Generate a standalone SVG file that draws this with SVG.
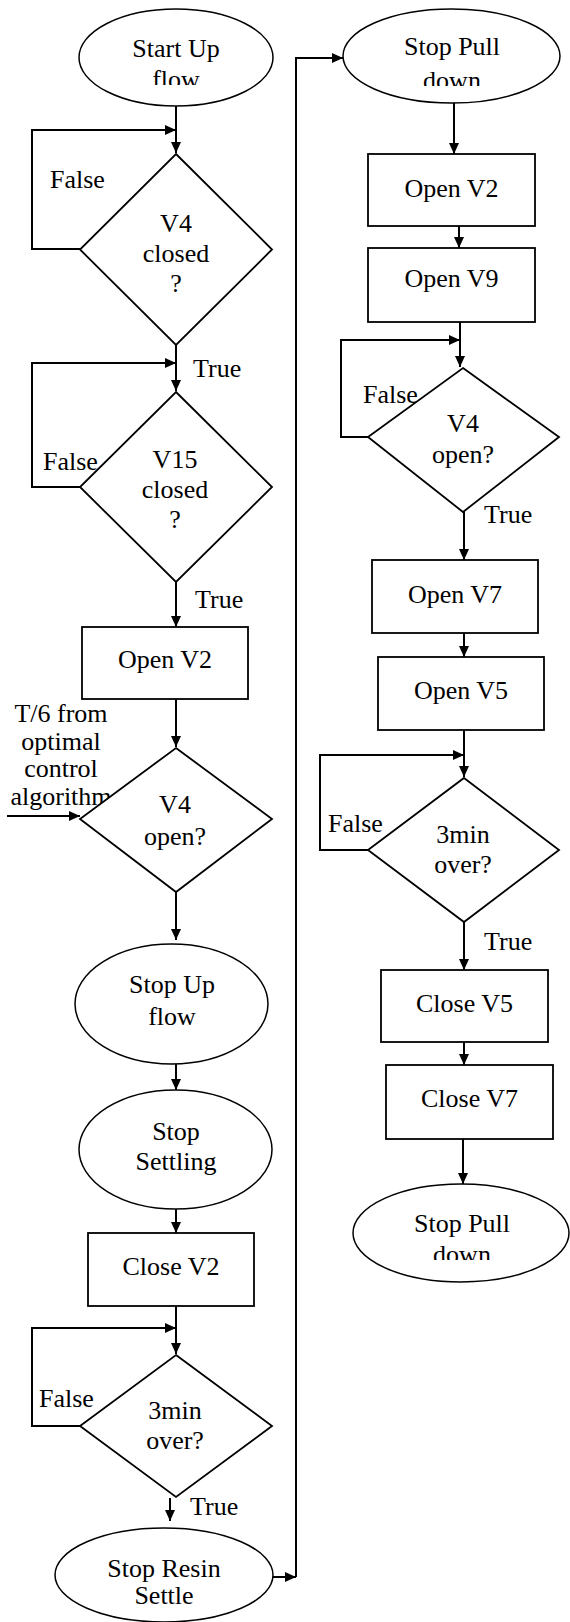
<svg xmlns="http://www.w3.org/2000/svg" width="570" height="1622" viewBox="0 0 570 1622">
<style>
  .shape { fill: #fff; stroke: #000; stroke-width: 1.8; }
  .ell { fill: #fff; stroke: #000; stroke-width: 1.5; }
  .line { fill: none; stroke: #000; stroke-width: 2; }
  text { font-family: "Liberation Serif", "Times New Roman", serif; font-size: 26px; fill: #000; }
  .c { text-anchor: middle; }
</style>
<defs>
  <marker id="arr" markerUnits="userSpaceOnUse" markerWidth="11" markerHeight="10" refX="11" refY="5" orient="auto">
    <path d="M0,0 L11,5 L0,10 z" fill="#000"/>
  </marker>
  <clipPath id="clipA"><rect x="0" y="0" width="290" height="85"/></clipPath>
  <clipPath id="clipB"><rect x="290" y="0" width="280" height="86"/></clipPath>
  <clipPath id="clipC"><rect x="290" y="1150" width="280" height="110"/></clipPath>
</defs>
<rect width="570" height="1622" fill="#fff"/>

<g id="connectors">
  <path class="line" d="M176,106 V153" marker-end="url(#arr)"/>
  <path class="line" d="M80,249 H32 V130 H176" marker-end="url(#arr)"/>
  <path class="line" d="M176,345 V391" marker-end="url(#arr)"/>
  <path class="line" d="M80,487 H32 V363 H176" marker-end="url(#arr)"/>
  <path class="line" d="M176,582 V627" marker-end="url(#arr)"/>
  <path class="line" d="M176,699 V747" marker-end="url(#arr)"/>
  <path class="line" d="M7,816 H80" marker-end="url(#arr)"/>
  <path class="line" d="M176,892 V940" marker-end="url(#arr)"/>
  <path class="line" d="M176,1064 V1090" marker-end="url(#arr)"/>
  <path class="line" d="M176,1209 V1233" marker-end="url(#arr)"/>
  <path class="line" d="M176,1306 V1354" marker-end="url(#arr)"/>
  <path class="line" d="M80,1426 H32 V1328 H176" marker-end="url(#arr)"/>
  <path class="line" d="M170,1498 V1521" marker-end="url(#arr)"/>
  <path class="line" d="M273,1577 H296" marker-end="url(#arr)"/>
  <path class="line" d="M296,1577 V58 H343" marker-end="url(#arr)"/>
  <path class="line" d="M454,103 V154" marker-end="url(#arr)"/>
  <path class="line" d="M459,226 V248" marker-end="url(#arr)"/>
  <path class="line" d="M460,322 V367" marker-end="url(#arr)"/>
  <path class="line" d="M368,437 H341 V340 H460" marker-end="url(#arr)"/>
  <path class="line" d="M464,512 V560" marker-end="url(#arr)"/>
  <path class="line" d="M464,633 V657" marker-end="url(#arr)"/>
  <path class="line" d="M464,730 V777" marker-end="url(#arr)"/>
  <path class="line" d="M368,850 H320 V755 H464" marker-end="url(#arr)"/>
  <path class="line" d="M464,922 V970" marker-end="url(#arr)"/>
  <path class="line" d="M464,1042 V1065" marker-end="url(#arr)"/>
  <path class="line" d="M463,1139 V1184" marker-end="url(#arr)"/>
  <text x="50" y="188">False</text>
  <text x="193" y="377">True</text>
  <text x="43" y="470">False</text>
  <text x="195" y="608">True</text>
  <text class="c" x="61" y="722">T/6 from</text>
  <text class="c" x="61" y="750">optimal</text>
  <text class="c" x="61" y="777">control</text>
  <text class="c" x="61" y="805">algorithm</text>
  <text x="39" y="1407">False</text>
  <text x="190" y="1515">True</text>
  <text x="363" y="403">False</text>
  <text x="484" y="523">True</text>
  <text x="328" y="832">False</text>
  <text x="484" y="950">True</text>
</g>

<g id="start-up-flow">
  <ellipse class="ell" cx="176" cy="57.5" rx="97" ry="48.5"/>
  <text class="c" x="176" y="57">Start Up</text>
  <text class="c" x="176" y="88" clip-path="url(#clipA)">flow</text>
</g>
<g id="v4-closed">
  <polygon class="shape" points="176,154 272,249.5 176,345 80,249.5"/>
  <text class="c" x="176" y="232">V4</text>
  <text class="c" x="176" y="262">closed</text>
  <text class="c" x="176" y="292">?</text>
</g>
<g id="v15-closed">
  <polygon class="shape" points="176,392 272,487 176,582 80,487"/>
  <text class="c" x="175" y="468">V15</text>
  <text class="c" x="175" y="498">closed</text>
  <text class="c" x="175" y="528">?</text>
</g>
<g id="open-v2-a">
  <rect class="shape" x="82" y="627" width="166" height="72"/>
  <text class="c" x="165" y="668">Open V2</text>
</g>
<g id="v4-open-a">
  <polygon class="shape" points="176,748 272,819 176,892 80,819"/>
  <text class="c" x="175" y="813">V4</text>
  <text class="c" x="175" y="845">open?</text>
</g>
<g id="stop-up-flow">
  <ellipse class="ell" cx="171.5" cy="1004" rx="96.5" ry="60"/>
  <text class="c" x="172" y="993">Stop Up</text>
  <text class="c" x="172" y="1025">flow</text>
</g>
<g id="stop-settling">
  <ellipse class="ell" cx="175.5" cy="1149.5" rx="96.5" ry="59.5"/>
  <text class="c" x="176" y="1140">Stop</text>
  <text class="c" x="176" y="1170">Settling</text>
</g>
<g id="close-v2">
  <rect class="shape" x="88" y="1233" width="166" height="73"/>
  <text class="c" x="171" y="1275">Close V2</text>
</g>
<g id="three-min-a">
  <polygon class="shape" points="176,1355 272,1426 176,1497 80,1426"/>
  <text class="c" x="175" y="1419">3min</text>
  <text class="c" x="175" y="1449">over?</text>
</g>
<g id="stop-resin-settle">
  <ellipse class="ell" cx="164" cy="1575" rx="109" ry="47"/>
  <text class="c" x="164" y="1577">Stop Resin</text>
  <text class="c" x="164" y="1604">Settle</text>
</g>

<g id="stop-pull-down-a">
  <ellipse class="ell" cx="451.5" cy="56" rx="108.5" ry="47"/>
  <text class="c" x="452" y="55">Stop Pull</text>
  <text class="c" x="452" y="89" clip-path="url(#clipB)">down</text>
</g>
<g id="open-v2-b">
  <rect class="shape" x="368" y="154" width="167" height="72"/>
  <text class="c" x="451.5" y="197">Open V2</text>
</g>
<g id="open-v9">
  <rect class="shape" x="368" y="248" width="167" height="74"/>
  <text class="c" x="451.5" y="287">Open V9</text>
</g>
<g id="v4-open-b">
  <polygon class="shape" points="463,368 559,437 463,512 368,437"/>
  <text class="c" x="463" y="432">V4</text>
  <text class="c" x="463" y="463">open?</text>
</g>
<g id="open-v7">
  <rect class="shape" x="372" y="560" width="166" height="73"/>
  <text class="c" x="455" y="603">Open V7</text>
</g>
<g id="open-v5">
  <rect class="shape" x="378" y="657" width="166" height="73"/>
  <text class="c" x="461" y="699">Open V5</text>
</g>
<g id="three-min-b">
  <polygon class="shape" points="464,778 559,850 464,922 368,850"/>
  <text class="c" x="463" y="843">3min</text>
  <text class="c" x="463" y="873">over?</text>
</g>
<g id="close-v5">
  <rect class="shape" x="381" y="970" width="167" height="72"/>
  <text class="c" x="464.5" y="1012">Close V5</text>
</g>
<g id="close-v7">
  <rect class="shape" x="386" y="1065" width="167" height="74"/>
  <text class="c" x="469.5" y="1107">Close V7</text>
</g>
<g id="stop-pull-down-b">
  <ellipse class="ell" cx="461" cy="1233" rx="108" ry="49"/>
  <text class="c" x="462" y="1232">Stop Pull</text>
  <text class="c" x="462" y="1263" clip-path="url(#clipC)">down</text>
</g>
</svg>
